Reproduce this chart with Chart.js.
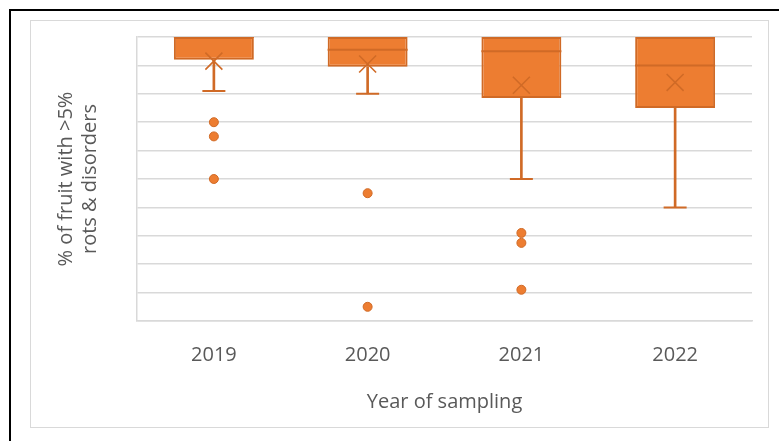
<!DOCTYPE html>
<html>
<head>
<meta charset="utf-8">
<script src="https://cdn.jsdelivr.net/npm/chart.js@4.4.1/dist/chart.umd.min.js"></script>
<style>
  html, body { margin: 0; padding: 0; background: #fff; overflow: hidden; }
  body { width: 779px; height: 441px; position: relative; }
  #frame { position: absolute; left: 9px; top: 9px; width: 800px; height: 460px;
           border-top: 2px solid #000; border-left: 2px solid #000; }
  #box { position: absolute; left: 30px; top: 20px; width: 737px; height: 406px;
         border: 1px solid #d9d9d9; background: #fff; }
  #box canvas { display: block; }
</style>
</head>
<body>
<div id="frame"></div>
<div id="box"><canvas id="chart" width="737" height="406"></canvas></div>
<script>
// Sampling years and the summary statistics of each year's distribution (%)
const years = ['2019', '2020', '2021', '2022'];
const lowerQuartile = [92, 89.5, 78.5, 75];
const upperQuartile = [100, 100, 100, 100];
const medians = [100, 95.5, 95, 90];
const means = [91.5, 90.5, 83, 84];
const whiskerLow = [81, 80, 50, 40];
const outliers = [
  [70, 65, 50],
  [45, 5],
  [31, 27.5, 11],
  []
];

const FILL = '#ED7D31';
const EDGE = '#D06A26';

const outlierPoints = [];
years.forEach((yr, i) => outliers[i].forEach(v => outlierPoints.push({ x: yr, y: v })));

new Chart(document.getElementById('chart'), {
  type: 'bar',
  data: {
    labels: years,
    datasets: [
      {
        // lower whisker stem
        type: 'bar',
        data: years.map((_, i) => [whiskerLow[i], lowerQuartile[i]]),
        backgroundColor: EDGE,
        borderWidth: 0,
        barThickness: 2,
        grouped: false,
        order: 6
      },
      {
        // interquartile box
        type: 'bar',
        data: years.map((_, i) => [lowerQuartile[i], upperQuartile[i]]),
        backgroundColor: FILL,
        borderColor: EDGE,
        borderWidth: 2,
        borderSkipped: false,
        categoryPercentage: 1,
        barPercentage: 0.52,
        grouped: false,
        order: 5
      },
      {
        // whisker caps
        type: 'line',
        data: whiskerLow,
        showLine: false,
        pointStyle: 'line',
        pointRadius: 11.5,
        pointHoverRadius: 11.5,
        pointBorderColor: EDGE,
        pointBorderWidth: 2,
        order: 4
      },
      {
        // median line
        type: 'line',
        data: medians,
        showLine: false,
        pointStyle: 'line',
        pointRadius: 40,
        pointHoverRadius: 40,
        pointBorderColor: EDGE,
        pointBorderWidth: 2,
        order: 3
      },
      {
        // mean marker
        type: 'line',
        data: means,
        showLine: false,
        pointStyle: 'crossRot',
        pointRadius: 12,
        pointHoverRadius: 12,
        pointBorderColor: EDGE,
        pointBorderWidth: 1.6,
        order: 2
      },
      {
        // outliers
        type: 'line',
        data: outlierPoints,
        showLine: false,
        pointStyle: 'circle',
        pointRadius: 4.5,
        pointHoverRadius: 4.5,
        pointBackgroundColor: FILL,
        pointBorderColor: EDGE,
        pointBorderWidth: 1,
        order: 1
      }
    ]
  },
  options: {
    responsive: false,
    animation: false,
    events: [],
    layout: { autoPadding: false, padding: { left: 18, right: 16, top: 16, bottom: 13 } },
    plugins: { legend: { display: false }, tooltip: { enabled: false } },
    scales: {
      x: {
        offset: true,
        grid: { display: false, drawTicks: false },
        border: { display: true, color: '#d9d9d9', width: 1.5 },
        ticks: {
          padding: 22,
          color: '#595959',
          font: { family: 'Open Sans', size: 20 }
        },
        title: {
          display: true,
          text: 'Year of sampling',
          color: '#595959',
          font: { family: 'Open Sans', size: 20 },
          padding: { top: 1, bottom: 0 }
        }
      },
      y: {
        min: 0,
        max: 100,
        ticks: { display: false, stepSize: 10 },
        grid: { color: '#d9d9d9', lineWidth: 1.5, drawTicks: false },
        border: { display: true, color: '#d9d9d9', width: 1.5 },
        title: {
          display: true,
          text: ['% of fruit with >5%', 'rots & disorders'],
          color: '#595959',
          font: { family: 'Open Sans', size: 20 },
          padding: { top: 5, bottom: 35 }
        }
      }
    }
  }
});
</script>
</body>
</html>
